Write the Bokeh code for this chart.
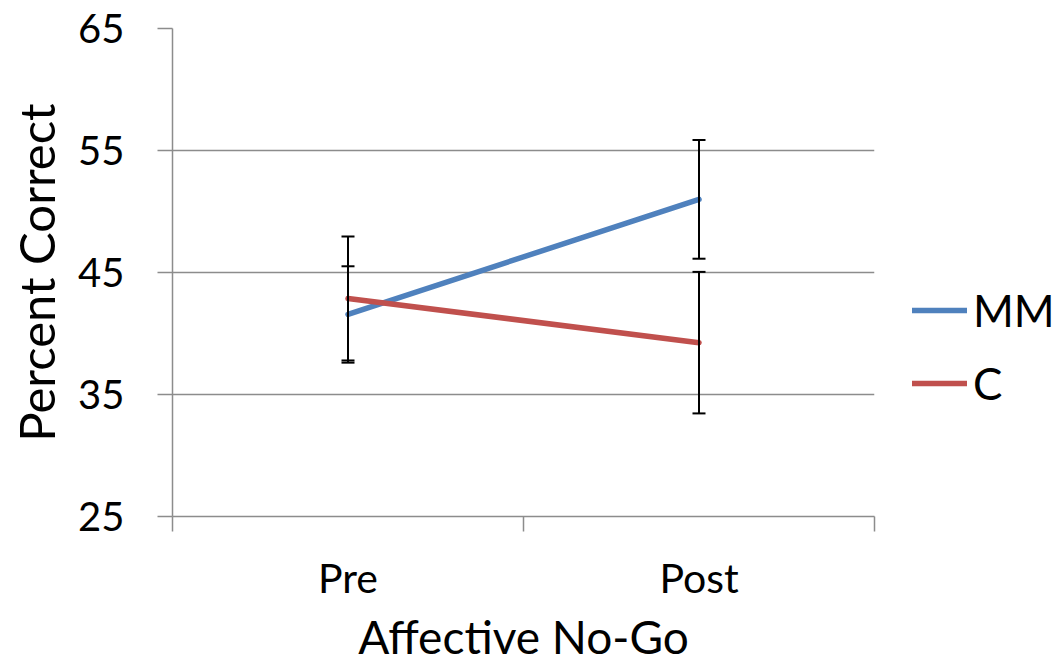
from bokeh.plotting import figure
from bokeh.models import Range1d, FixedTicker, Legend, LegendItem, Whisker, ColumnDataSource
from bokeh.embed import file_html
from bokeh.resources import INLINE

categories = ["Pre", "Post"]
mm_values = [41.56, 51.0]
mm_errors = [3.95, 4.87]
c_values = [42.87, 39.25]
c_errors = [5.08, 5.8]
y_ticks = [25, 35, 45, 55, 65]
series_names = ["MM", "C"]

FONT = "Lato"
GRID = "#8c8c8c"
BLUE = "#4F81BD"
RED = "#C0504D"

x_pos = [i + 0.5 for i in range(len(categories))]
n = len(categories)

p = figure(frame_width=702, frame_height=488, output_backend="svg", toolbar_location=None,
           x_range=Range1d(0, n), y_range=Range1d(y_ticks[0], y_ticks[-1]),
           min_border_left=172, min_border_right=0, min_border_top=28, min_border_bottom=151)
p.outline_line_color = None
p.background_fill_color = "white"
p.border_fill_color = "white"

# y axis
p.yaxis.ticker = FixedTicker(ticks=y_ticks)
p.yaxis.axis_line_color = GRID
p.yaxis.axis_line_width = 1.5
p.yaxis.major_tick_line_color = GRID
p.yaxis.major_tick_line_width = 1.5
p.yaxis.major_tick_out = 15
p.yaxis.major_tick_in = 0
p.yaxis.minor_tick_line_color = None
p.yaxis.major_label_text_font = FONT
p.yaxis.major_label_text_font_size = "40px"
p.yaxis.major_label_text_color = "black"
p.yaxis.major_label_standoff = 33
p.yaxis.axis_label = "Percent Correct"
p.yaxis.axis_label_text_font = FONT
p.yaxis.axis_label_text_font_size = "49px"
p.yaxis.axis_label_text_font_style = "normal"
p.yaxis.axis_label_text_color = "black"
p.yaxis.axis_label_standoff = 10

# x axis: labels at category centres, ticks at category boundaries
p.xaxis.ticker = FixedTicker(ticks=x_pos, minor_ticks=list(range(n + 1)))
p.xaxis.major_label_overrides = {x: c for x, c in zip(x_pos, categories)}
p.xaxis.axis_line_color = GRID
p.xaxis.axis_line_width = 1.5
p.xaxis.major_tick_line_color = None
p.xaxis.major_tick_out = 15
p.xaxis.minor_tick_line_color = GRID
p.xaxis.minor_tick_line_width = 1.5
p.xaxis.minor_tick_out = 15
p.xaxis.minor_tick_in = 0
p.xaxis.major_label_text_font = FONT
p.xaxis.major_label_text_font_size = "41px"
p.xaxis.major_label_text_color = "black"
p.xaxis.major_label_standoff = 21
p.xaxis.axis_label = "Affective No-Go"
p.xaxis.axis_label_text_font = FONT
p.xaxis.axis_label_text_font_size = "46px"
p.xaxis.axis_label_text_font_style = "normal"
p.xaxis.axis_label_text_color = "black"
p.xaxis.axis_label_standoff = 4

p.xgrid.grid_line_color = None
p.ygrid.grid_line_color = GRID
p.ygrid.grid_line_width = 1.5

src_mm = ColumnDataSource(dict(x=x_pos, y=mm_values,
                               lo=[v - e for v, e in zip(mm_values, mm_errors)],
                               hi=[v + e for v, e in zip(mm_values, mm_errors)]))
src_c = ColumnDataSource(dict(x=x_pos, y=c_values,
                              lo=[v - e for v, e in zip(c_values, c_errors)],
                              hi=[v + e for v, e in zip(c_values, c_errors)]))

r_mm = p.line("x", "y", source=src_mm, line_color=BLUE, line_width=5.5, line_cap="round")
r_c = p.line("x", "y", source=src_c, line_color=RED, line_width=5.5, line_cap="round")

for src in (src_mm, src_c):
    w = Whisker(source=src, base="x", upper="hi", lower="lo", level="overlay",
                line_color="black", line_width=2)
    w.upper_head.size = 13
    w.lower_head.size = 13
    w.upper_head.line_width = 2
    w.lower_head.line_width = 2
    p.add_layout(w)

legend = Legend(items=[LegendItem(label=series_names[0], renderers=[r_mm]),
                       LegendItem(label=series_names[1], renderers=[r_c])],
                location=(38, 107), orientation="vertical",
                label_text_font=FONT, label_text_font_size="44px", label_text_color="black",
                glyph_width=55, glyph_height=40, spacing=21, padding=0, margin=0,
                label_standoff=6, border_line_color=None, background_fill_alpha=0)
p.add_layout(legend, "right")

open("out.html", "w").write(file_html(p, INLINE))
